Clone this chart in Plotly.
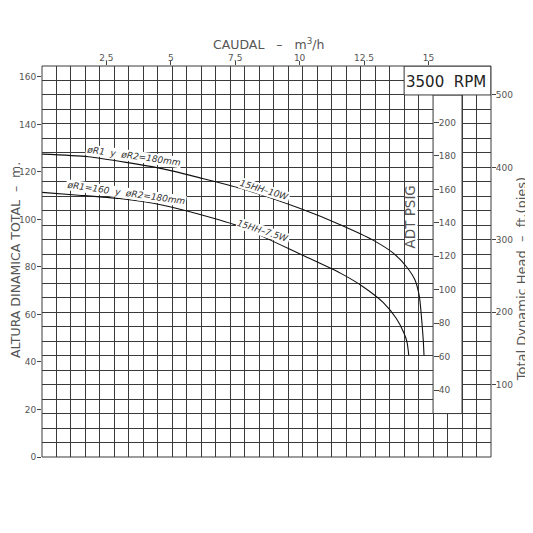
import plotly.graph_objects as go

# -------------------------
# Data
# -------------------------
# pump curve 15HH-10W (m3/h vs m)
flow_10w = [0, 1.8, 4.7, 6.1, 7.7, 10.0, 11.6, 12.85, 13.65, 14.15, 14.48, 14.65, 14.74, 14.8, 14.83]
head_10w = [127.5, 126.4, 121.3, 117.6, 113.1, 104.7, 97.7, 91.3, 85.7, 80.1, 74.5, 67.5, 57.7, 49.3, 42.7]

# pump curve 15HH-7.5W
flow_75w = [0, 1.3, 3.0, 4.7, 6.1, 7.7, 10.1, 11.6, 12.45, 13.25, 13.75, 14.05, 14.17, 14.24]
head_75w = [111.4, 110.3, 108.8, 106.0, 102.2, 97.0, 85.0, 77.3, 71.8, 65.0, 58.4, 52.2, 48.4, 42.7]

flow_ticks = [2.5, 5, 7.5, 10, 12.5, 15]
flow_labels = ["2.5", "5", "7.5", "10", "12.5", "15"]
head_m_ticks = [0, 20, 40, 60, 80, 100, 120, 140, 160]
head_ft_ticks = [100, 200, 300, 400, 500]
psig_ticks = [40, 60, 80, 100, 120, 140, 160, 180, 200]

# -------------------------
# Chart geometry
# -------------------------
M_PER_FT = 0.3048
FT_PER_PSI = 2.31
FT_MAX = 540
H_MAX = FT_MAX * M_PER_FT
Q_MAX = 17.43
N_COLS = 31          # grid cells across
N_ROWS = 27          # grid cells (20 ft each) up
FONT = "DejaVu Sans"
GRID = "#3a3a3a"
TXT = "#555555"


def qx(col):
    return col * Q_MAX / N_COLS


def hy(row):
    return row * 20 * M_PER_FT


fig = go.Figure()

for q, h in [(flow_10w, head_10w), (flow_75w, head_75w)]:
    fig.add_trace(go.Scatter(x=q, y=h, mode="lines", xaxis="x", yaxis="y",
                             line=dict(color="#111111", width=1.1, shape="spline", smoothing=0.6),
                             hoverinfo="skip", showlegend=False))

# empty traces so every extra axis gets drawn
for xa, ya in [("x2", "y3"), ("x", "y2"), ("x", "y4")]:
    fig.add_trace(go.Scatter(x=[], y=[], xaxis=xa, yaxis=ya, showlegend=False, hoverinfo="skip"))

tickfont = dict(family=FONT, size=9, color=TXT)

fig.update_layout(
    width=525, height=525,
    margin=dict(l=34, r=42, t=58, b=76),
    paper_bgcolor="white", plot_bgcolor="white",
    showlegend=False,
    xaxis=dict(domain=[0, 1], range=[0, Q_MAX], side="top", tickvals=flow_ticks, ticktext=flow_labels,
               ticks="outside", ticklen=4, tickcolor="#444", tickfont=tickfont, ticklabelstandoff=-4,
               showgrid=False, zeroline=False, showline=False),
    xaxis2=dict(overlaying="x", anchor="y", range=[0, N_COLS], dtick=1, tick0=0, showgrid=True,
                gridcolor=GRID, gridwidth=1, showticklabels=False, ticks="", zeroline=False),
    yaxis=dict(range=[0, H_MAX], tickvals=head_m_ticks, ticks="outside", ticklen=4, tickcolor="#444",
               tickfont=tickfont, ticklabelstandoff=-1, showgrid=False, zeroline=False, showline=False),
    yaxis2=dict(overlaying="y", anchor="x", side="right", range=[0, FT_MAX], tickvals=head_ft_ticks,
                ticks="outside", ticklen=4, tickcolor="#444", tickfont=tickfont, ticklabelstandoff=-2,
                showgrid=False, zeroline=False, showline=False),
    yaxis3=dict(overlaying="y", anchor="x", range=[0, N_ROWS], dtick=1, tick0=0, showgrid=True,
                gridcolor=GRID, gridwidth=1, showticklabels=False, ticks="", zeroline=False),
    yaxis4=dict(overlaying="y", anchor="free", position=27 / N_COLS, side="right",
                range=[0, FT_MAX / FT_PER_PSI], tickvals=psig_ticks, ticks="outside", ticklen=5,
                tickcolor="#444", tickfont=tickfont, ticklabelstandoff=-2,
                showgrid=False, zeroline=False, showline=False),
)

# white strip for PSIG scale, RPM box, mask behind ADT PSIG
fig.add_shape(type="rect", xref="x", yref="y", x0=qx(27), x1=qx(29), y0=hy(3), y1=hy(25),
              fillcolor="white", line=dict(color=GRID, width=1), layer="between")
fig.add_shape(type="rect", xref="x", yref="y", x0=qx(25), x1=qx(31), y0=hy(25), y1=hy(27),
              fillcolor="white", line=dict(color=GRID, width=1), layer="between")
fig.add_shape(type="rect", xref="x", yref="y", x0=qx(25.08), x1=qx(25.92), y0=86.0, y1=115.5,
              fillcolor="white", line=dict(width=0), layer="between")
fig.add_shape(type="rect", xref="paper", yref="paper", x0=0, x1=1, y0=0, y1=1,
              line=dict(color=GRID, width=1), fillcolor="rgba(0,0,0,0)", layer="above")

ann_font = dict(family=FONT, size=13, color=TXT)
centre = dict(showarrow=False, xanchor="center", yanchor="middle")
fig.add_annotation(text="CAUDAL   –   m<sup>3</sup>/h", xref="paper", yref="paper", x=0.505, y=1.057,
                   font=dict(family=FONT, size=12.5, color=TXT), **centre)
fig.add_annotation(text="ALTURA DINAMICA TOTAL  –  m.", xref="paper", yref="paper", x=-0.0579, y=0.504,
                   textangle=-90, font=dict(family=FONT, size=12.5, color=TXT), **centre)
fig.add_annotation(text="Total Dynamic Head  –  ft.(pies)", xref="paper", yref="paper", x=1.067, y=0.455,
                   textangle=-90, font=ann_font, **centre)
fig.add_annotation(text="3500  RPM", xref="paper", yref="paper", x=0.9, y=0.959,
                   font=dict(family=FONT, size=15, color="#222"), **centre)
fig.add_annotation(text="ADT PSIG", xref="paper", yref="paper", x=0.8207, y=0.6138, textangle=-90,
                   font=dict(family=FONT, size=13.5, color=TXT), **centre)

lab_font = dict(family=FONT, size=9, color="#333")
for txt, q, h, ang in [("øR1  y  øR2=180mm", 3.54, 126.6, 8),
                       ("øR1=160  y  øR2=180mm", 3.25, 111.0, 8),
                       ("15HH–10W", 8.62, 112.4, 17),
                       ("15HH–7.5W", 8.58, 95.1, 18)]:
    fig.add_annotation(text="<i>" + txt + "</i>", x=q, y=h, xref="x", yref="y", textangle=ang,
                       font=lab_font, bgcolor="white", borderpad=0, **centre)

fig.write_html("out.html")
